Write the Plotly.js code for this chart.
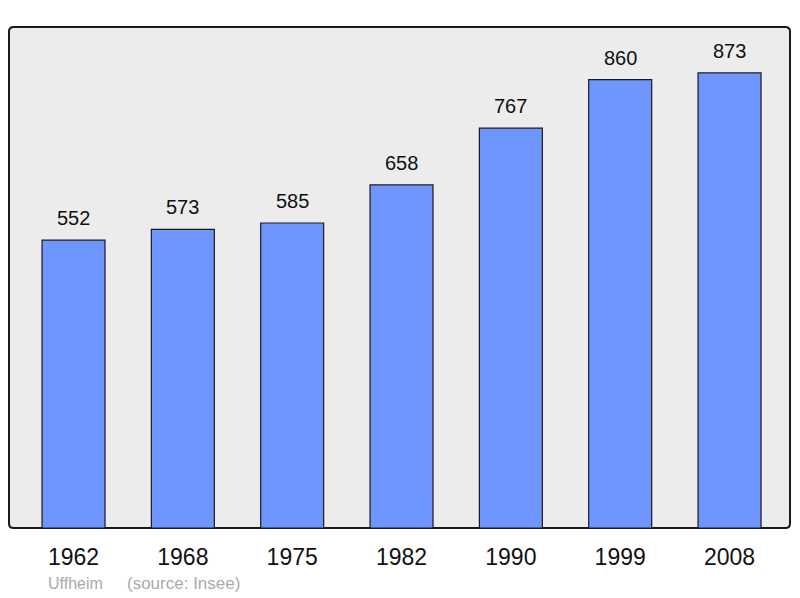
<!DOCTYPE html>
<html><head><meta charset="utf-8">
<script src="https://cdn.plot.ly/plotly-3.0.1.min.js"></script>
<style>html,body{margin:0;padding:0;background:#fff}#c{width:800px;height:598px}</style>
</head><body><div id="c"></div>
<script>
const years = ["1962","1968","1975","1982","1990","1999","2008"];
const population = [552,573,585,658,767,860,873];
const commune = "Uffheim";
const source = "(source: Insee)";

const idx = years.map((_, i) => i);
const trace = {
  type: 'bar', x: idx, y: population, width: 0.576,
  marker: {color: '#6f96ff', line: {color: '#1a1a1a', width: 1.2}},
  hoverinfo: 'skip'
};
const ann = population.map((v, i) => ({
  x: i, y: v, xref: 'x', yref: 'y', text: String(v), showarrow: false,
  yshift: 22, font: {size: 20, color: '#111', family: 'Liberation Sans, Arial, sans-serif'}
}));
ann.push({xref: 'paper', yref: 'paper', x: 0.047, y: -0.11, xanchor: 'left', yanchor: 'middle',
  text: commune, showarrow: false, font: {size: 16, color: '#aaaaaa', family: 'Liberation Sans, Arial, sans-serif'}});
ann.push({xref: 'paper', yref: 'paper', x: 0.149, y: -0.11, xanchor: 'left', yanchor: 'middle',
  text: source, showarrow: false, font: {size: 17, color: '#aaaaaa', family: 'Liberation Sans, Arial, sans-serif'}});

const rx = 0.006, ry = 0.009;
const framePath = `M ${rx},0 L ${1-rx},0 Q 1,0 1,${ry} L 1,${1-ry} Q 1,1 ${1-rx},1 L ${rx},1 Q 0,1 0,${1-ry} L 0,${ry} Q 0,0 ${rx},0 Z`;

const layout = {
  width: 800, height: 598,
  margin: {l: 9, r: 10, t: 27, b: 70},
  paper_bgcolor: '#ffffff', plot_bgcolor: 'rgba(0,0,0,0)',
  showlegend: false,
  font: {family: 'Liberation Sans, Arial, sans-serif', color: '#111'},
  xaxis: {range: [-0.59, 6.553], tickvals: idx, ticktext: years, showgrid: false, zeroline: false,
    showline: false, ticks: '', tickfont: {size: 23, color: '#111'}, ticklabelstandoff: 13, fixedrange: true},
  yaxis: {range: [0, 961], showgrid: false, zeroline: false, showticklabels: false, ticks: '', fixedrange: true},
  shapes: [{
    type: 'path', xref: 'paper', yref: 'paper', layer: 'below',
    path: framePath,
    fillcolor: '#ececec', line: {color: '#1a1a1a', width: 2}
  }],
  annotations: ann
};
Plotly.newPlot('c', [trace], layout, {displayModeBar: false, staticPlot: true});
</script></body></html>
